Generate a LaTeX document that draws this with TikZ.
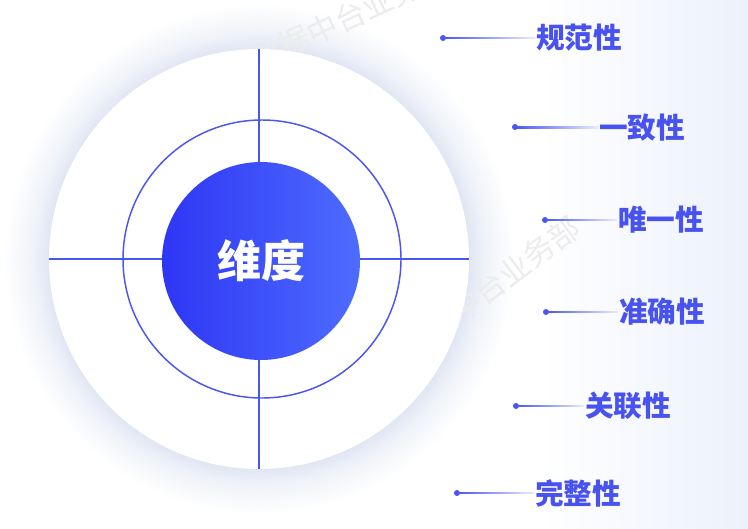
\documentclass[tikz,border=0pt]{standalone}
\usepackage{fontspec}
\newfontfamily\cjk{Noto Sans CJK SC}
\usetikzlibrary{calc}

\definecolor{lineblue}{RGB}{74,86,242}
\definecolor{textblue}{RGB}{72,82,240}
\definecolor{coreleft}{RGB}{46,54,244}
\definecolor{coreright}{RGB}{78,108,255}
\definecolor{glowc}{RGB}{224,230,243}
\definecolor{bgblue}{RGB}{236,241,252}
\definecolor{wmark}{RGB}{236,236,236}
\pgfdeclareradialshading{glowshade}{\pgfpointorigin}{color(0bp)=(glowc); color(20.6bp)=(glowc); color(22.2bp)=(glowc!50!white); color(25bp)=(white); color(50bp)=(white)}

\begin{document}
\begin{tikzpicture}[x=0.75pt,y=0.75pt,yscale=-1,xscale=1,
  rim/.style={draw=lineblue, line width=1.1pt},
  core/.style={circle, minimum size=148.5pt, inner sep=0pt, left color=coreleft, right color=coreright, text=white, font=\cjk\bfseries\fontsize{33}{33}\selectfont},
  ring/.style={circle, minimum size=208.5pt, inner sep=0pt, rim},
  dot/.style={circle, fill=lineblue, inner sep=0pt, minimum size=4.5pt},
  tag/.style={anchor=west, inner sep=0pt, text=textblue, font=\cjk\bfseries\fontsize{21.5}{21.5}\selectfont},
  wm/.style={text=wmark, inner sep=0pt, font=\cjk\fontsize{23}{23}\selectfont}]
\useasboundingbox (0,0) rectangle (748,528);

%Background
\fill[white] (0,0) rectangle (748,528);
\shade[left color=white, right color=bgblue] (540,0) rectangle (748,528);

%Shape: Circle glow
\coordinate (mid) at (259,259);
\shade[shading=glowshade] (mid) circle (255);

% Watermark
\node[wm, rotate=25] (wm1) at (350,16) {数据中台业务部};
\node[wm, rotate=37] (wm2) at (490,288) {数据中台业务部};

%Shape: Circle
\fill[white] (mid) circle (210);
\coordinate (top) at (259,49);
\coordinate (bottom) at (259,469);
\coordinate (left) at (49,259);
\coordinate (right) at (469,259);

%Straight Lines
\draw[rim] (top) -- (bottom);
\draw[rim] (left) -- (right);

%Shape: Circle
\node[ring] (ring) at (262,259) {};
\node[core] (core) at (261,261) {维度};

% Dots
\node[dot] (d1) at (443,38) {};
\node[dot] (d2) at (515,127) {};
\node[dot] (d3) at (545,220) {};
\node[dot] (d4) at (546,312) {};
\node[dot] (d5) at (516,406) {};
\node[dot] (d6) at (457,493) {};

% Text Node
\node[tag] (t1) at (536,38) {规范性};
\node[tag] (t2) at (599,128) {一致性};
\node[tag] (t3) at (618,220) {唯一性};
\node[tag] (t4) at (619,312) {准确性};
\node[tag] (t5) at (585,406) {关联性};
\node[tag] (t6) at (535,493) {完整性};

%Straight Lines
\shade[left color=lineblue, right color=lineblue!12] ($(d1.center)+(0,-0.8)$) rectangle ($(t1.west)+(-1,0.8)$);
\shade[left color=lineblue, right color=lineblue!12] ($(d2.center)+(0,-0.8)$) rectangle ($(t2.west)+(-1,0.8)$);
\shade[left color=lineblue, right color=lineblue!12] ($(d3.center)+(0,-0.8)$) rectangle ($(t3.west)+(-1,0.8)$);
\shade[left color=lineblue, right color=lineblue!12] ($(d4.center)+(0,-0.8)$) rectangle ($(t4.west)+(-1,0.8)$);
\shade[left color=lineblue, right color=lineblue!12] ($(d5.center)+(0,-0.8)$) rectangle ($(t5.west)+(-1,0.8)$);
\shade[left color=lineblue, right color=lineblue!12] ($(d6.center)+(0,-0.8)$) rectangle ($(t6.west)+(-1,0.8)$);

\end{tikzpicture}
\end{document}
